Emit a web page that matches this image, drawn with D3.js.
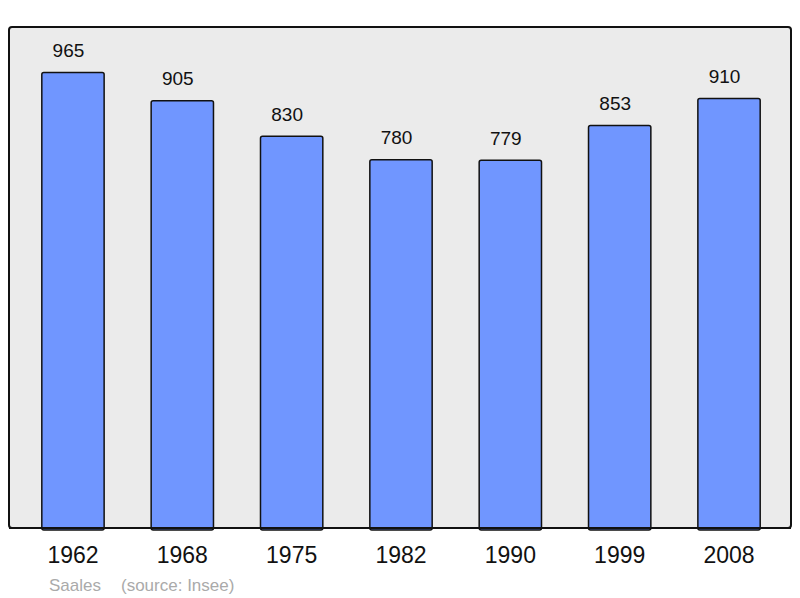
<!DOCTYPE html>
<html>
<head>
<meta charset="utf-8">
<script src="https://cdn.jsdelivr.net/npm/d3@7"></script>
<style>
  body { margin: 0; background: #fff; }
  text { font-family: "Liberation Sans", Arial, sans-serif; }
</style>
</head>
<body>
<script>
// population data
var years = ["1962", "1968", "1975", "1982", "1990", "1999", "2008"];
var population = [965, 905, 830, 780, 779, 853, 910];
var town = "Saales";
var source = "(source: Insee)";

var svgWidth = 800, svgHeight = 598;

var svg = d3.select("body").append("svg")
  .attr("width", svgWidth)
  .attr("height", svgHeight);

// frame of the plot
var frame = { left: 9, top: 27, right: 791, bottom: 528 };

svg.append("rect")
  .attr("x", frame.left)
  .attr("y", frame.top)
  .attr("width", frame.right - frame.left)
  .attr("height", frame.bottom - frame.top)
  .attr("rx", 3)
  .attr("fill", "#ebebeb")
  .attr("stroke", "#111")
  .attr("stroke-width", 2);

var x = d3.scaleBand()
  .domain(years)
  .range([18.3, 783.7])
  .paddingInner(0.43)
  .paddingOuter(0.215);

var y = d3.scaleLinear()
  .domain([0, d3.max(population) * 1.1])
  .range([frame.bottom, frame.top]);

var rows = years.map(function(yr, i) { return { year: yr, value: population[i] }; });

// bars
svg.selectAll("rect.bar")
  .data(rows)
  .enter()
  .append("rect")
  .attr("class", "bar")
  .attr("x", d => x(d.year))
  .attr("y", d => y(d.value))
  .attr("width", x.bandwidth())
  .attr("height", d => y(0) - y(d.value) + 2)
  .attr("rx", 2)
  .attr("fill", "#7096ff")
  .attr("stroke", "#111")
  .attr("stroke-width", 1.5);

// redraw bottom edge of frame over bars
svg.append("line")
  .attr("x1", frame.left)
  .attr("x2", frame.right)
  .attr("y1", frame.bottom)
  .attr("y2", frame.bottom)
  .attr("stroke", "#111")
  .attr("stroke-width", 2);

// value labels (sit a little left of bar centre)
svg.selectAll("text.value")
  .data(rows)
  .enter()
  .append("text")
  .attr("class", "value")
  .attr("x", d => x(d.year) + x.bandwidth() / 2 - 4.5)
  .attr("y", d => y(d.value) - 15.5)
  .attr("text-anchor", "middle")
  .style("font-size", "19px")
  .attr("fill", "#111")
  .text(d => d.value);

// year axis labels
var xAxis = d3.axisBottom(x).tickSize(0).tickPadding(0);
var axisG = svg.append("g")
  .attr("transform", `translate(0, ${frame.bottom + 19})`)
  .call(xAxis);
axisG.select(".domain").remove();
axisG.selectAll("text")
  .style("font-size", "23px")
  .style("font-family", "'Liberation Sans', Arial, sans-serif")
  .attr("fill", "#111");

// footer
svg.append("text")
  .attr("x", 49)
  .attr("y", 591)
  .style("font-size", "17px")
  .attr("fill", "#aaaaaa")
  .text(town);

svg.append("text")
  .attr("x", 121)
  .attr("y", 591)
  .style("font-size", "17px")
  .attr("fill", "#aaaaaa")
  .text(source);
</script>
</body>
</html>
